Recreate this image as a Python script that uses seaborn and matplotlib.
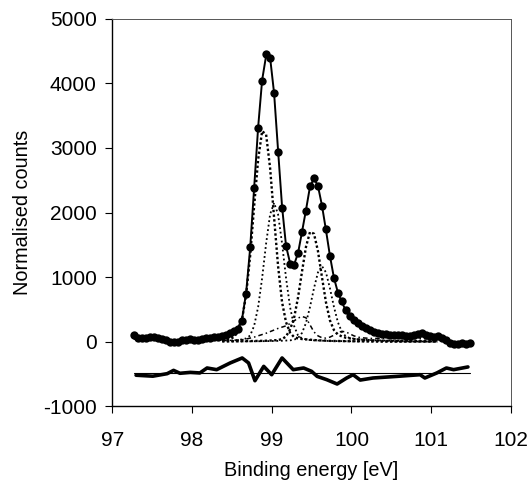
import numpy as np
import pandas as pd
import matplotlib
matplotlib.use("Agg")
import matplotlib.pyplot as plt
import seaborn as sns

# measured spectrum (binding energy in eV, normalised counts)
energy = [97.28, 97.33, 97.38, 97.43, 97.48, 97.53, 97.58, 97.63, 97.68, 97.73,
          97.78, 97.83, 97.88, 97.93, 97.98, 98.03, 98.08, 98.13, 98.18, 98.23,
          98.28, 98.33, 98.38, 98.43, 98.48, 98.53, 98.58, 98.63, 98.68, 98.73,
          98.78, 98.83, 98.88, 98.93, 98.98, 99.03, 99.08, 99.13, 99.18, 99.23,
          99.28, 99.33, 99.38, 99.43, 99.48, 99.53, 99.58, 99.63, 99.68, 99.73,
          99.78, 99.83, 99.88, 99.93, 99.98, 100.03, 100.08, 100.13, 100.18, 100.23,
          100.28, 100.33, 100.38, 100.43, 100.48, 100.53, 100.58, 100.63, 100.68, 100.73,
          100.78, 100.83, 100.88, 100.93, 100.98, 101.03, 101.08, 101.13, 101.18, 101.23,
          101.28, 101.33, 101.38, 101.43, 101.48]
counts = [100, 60, 50, 60, 70, 65, 55, 40, 20, 0,
          -10, 0, 20, 30, 35, 30, 25, 35, 50, 60,
          70, 75, 90, 110, 130, 160, 200, 315, 744, 1462,
          2383, 3313, 4036, 4450, 4398, 3845, 2941, 2073, 1478, 1209,
          1194, 1375, 1695, 2030, 2408, 2532, 2408, 2105, 1740, 1333,
          988, 755, 625, 496, 400, 340, 290, 250, 210, 175,
          150, 135, 125, 115, 110, 105, 100, 100, 95, 90,
          100, 120, 135, 110, 80, 70, 85, 60, 20, -20,
          -30, -30, -25, -30, -25]
fit = [40, 40, 40, 40, 40, 40, 40, 35, 30, 25,
       20, 20, 20, 25, 30, 30, 35, 40, 45, 55,
       65, 75, 90, 105, 125, 160, 220, 360, 760, 1450,
       2380, 3320, 4050, 4430, 4400, 3850, 2960, 2090, 1480, 1220,
       1190, 1370, 1700, 2040, 2400, 2530, 2410, 2110, 1730, 1330,
       990, 760, 610, 480, 390, 330, 280, 240, 200, 170,
       150, 135, 125, 115, 110, 105, 100, 98, 95, 95,
       100, 110, 115, 105, 85, 75, 70, 55, 25, -10,
       -25, -25, -25, -25, -25]

# fitted components
comp_energy = [98.38, 98.43, 98.48, 98.53, 98.58, 98.63, 98.68, 98.73, 98.78, 98.83,
               98.88, 98.93, 98.98, 99.03, 99.08, 99.13, 99.18, 99.23, 99.28, 99.33,
               99.38, 99.43, 99.48, 99.53, 99.58, 99.63, 99.68, 99.73, 99.78, 99.83,
               99.88, 99.93, 99.98, 100.03, 100.08, 100.13, 100.18, 100.23, 100.28, 100.33,
               100.38, 100.43, 100.48, 100.53, 100.58, 100.63, 100.68, 100.73, 100.78, 100.83,
               100.88, 100.93, 100.98, 101.03, 101.08]
comp_a = [20, 25, 40, 75, 165, 360, 730, 1330, 2100, 2820,
          3260, 3210, 2690, 1920, 1170, 610, 300, 140, 70, 50,
          40, 35, 30, 25, 20, 18, 15, 12, 10, 10,
          8, 8, 6, 6, 5, 5, 4, 4, 3, 3,
          2, 2, 2, 2, 2, 2, 2, 2, 2, 2,
          2, 2, 2, 2, 2]
comp_b = [10, 12, 15, 20, 25, 35, 50, 95, 245, 536,
          984, 1520, 1971, 2150, 1971, 1520, 984, 536, 245, 95,
          50, 35, 25, 20, 18, 15, 12, 10, 10, 8,
          8, 6, 6, 5, 5, 4, 4, 3, 3, 2,
          2, 2, 2, 2, 2, 2, 2, 2, 2, 2,
          2, 2, 2, 2, 2]
comp_c = [5, 5, 5, 6, 6, 7, 8, 9, 10, 11,
          12, 14, 17, 20, 25, 40, 80, 190, 365, 683,
          1085, 1470, 1698, 1672, 1402, 1001, 611, 330, 180, 110,
          80, 60, 50, 40, 35, 30, 25, 22, 20, 18,
          15, 12, 10, 9, 8, 7, 6, 6, 5, 5,
          5, 4, 4, 4, 4]
comp_d = [3, 3, 3, 4, 4, 4, 5, 5, 6, 6,
          7, 8, 9, 10, 12, 14, 17, 20, 30, 55,
          135, 290, 536, 827, 1073, 1170, 1073, 827, 540, 300,
          150, 80, 55, 45, 38, 32, 28, 25, 22, 20,
          18, 16, 15, 14, 13, 12, 11, 10, 10, 9,
          9, 8, 8, 8, 8]
comp_e = [15, 18, 20, 22, 25, 30, 40, 55, 70, 90,
          110, 130, 155, 180, 205, 225, 245, 280, 320, 365,
          390, 370, 260, 150, 90, 60, 55, 70, 100, 140,
          160, 150, 120, 90, 70, 60, 55, 50, 50, 50,
          50, 50, 50, 50, 48, 48, 47, 46, 45, 45,
          44, 44, 43, 42, 42]

# residual (drawn offset below the spectrum)
res_offset = -490
res_energy = [97.30, 97.51, 97.69, 97.77, 97.85, 97.98, 98.10, 98.19, 98.31, 98.48,
              98.63, 98.71, 98.79, 98.90, 99.00, 99.13, 99.27, 99.40, 99.50, 99.57,
              99.69, 99.82, 99.94, 100.02, 100.11, 100.27, 100.57, 100.86, 100.92, 101.07,
              101.19, 101.28, 101.46]
residual = [-30, -45, -6, 45, 0, 14, 5, 82, 56, 160,
            237, 160, -115, 107, -22, 237, 56, 82, 30, -48,
            -99, -166, -73, -22, -105, -73, -48, -22, -73, 5,
            82, 56, 98]

df = pd.DataFrame({"energy": energy, "counts": counts, "fit": fit})
comps = pd.DataFrame({"energy": comp_energy, "a": comp_a, "b": comp_b,
                      "c": comp_c, "d": comp_d, "e": comp_e})
res = pd.DataFrame({"energy": res_energy,
                    "res": np.array(residual) + res_offset})

sns.set_style("ticks")
plt.rcParams["font.family"] = ["Liberation Sans", "DejaVu Sans"]
plt.rcParams["axes.unicode_minus"] = False

fig = plt.figure(figsize=(5.29, 4.83), dpi=100)
ax = fig.add_axes([0.212, 0.159, 0.754, 0.802])

# components
styles = {"a": ((0, (1, 1)), 1.7), "b": ((0, (1, 1.5)), 1.3),
          "c": ((0, (1, 1)), 1.7), "d": ((0, (1, 1.5)), 1.3),
          "e": ((0, (3, 2, 1, 2)), 1.1)}
for col, (ls, lw) in styles.items():
    sns.lineplot(data=comps, x="energy", y=col, ax=ax, color="black",
                 linestyle=ls, linewidth=lw, sort=False, estimator=None)

# data points + fit
sns.scatterplot(data=df, x="energy", y="counts", ax=ax, color="black",
                s=36, edgecolor="black", linewidth=0, zorder=3)
sns.lineplot(data=df, x="energy", y="fit", ax=ax, color="black",
             linewidth=1.4, sort=False, estimator=None, zorder=4)

# residual + zero line
ax.plot([energy[0], energy[-1]], [res_offset, res_offset], color="black",
        linewidth=0.8)
sns.lineplot(data=res, x="energy", y="res", ax=ax, color="black",
             linewidth=2.6, sort=False, estimator=None)

ax.set_xlim(97, 102)
ax.set_ylim(-1000, 5000)
ax.set_xticks([97, 98, 99, 100, 101, 102])
ax.set_yticks([-1000, 0, 1000, 2000, 3000, 4000, 5000])
ax.tick_params(direction="out", length=5, width=0.8, labelsize=15, colors="black")
ax.tick_params(axis="x", pad=13)
ax.tick_params(axis="y", pad=6)
ax.set_xlabel("Binding energy [eV]", fontsize=14.3, labelpad=8, color="black")
ax.set_ylabel("Normalised counts", fontsize=14.3, labelpad=8, color="black")
for side in ["left", "bottom"]:
    ax.spines[side].set_linewidth(1.0)
    ax.spines[side].set_color("black")
for side in ["top", "right"]:
    ax.spines[side].set_visible(True)
    ax.spines[side].set_linewidth(0.7)
    ax.spines[side].set_color("#555555")

fig.savefig("out.png", dpi=100)
